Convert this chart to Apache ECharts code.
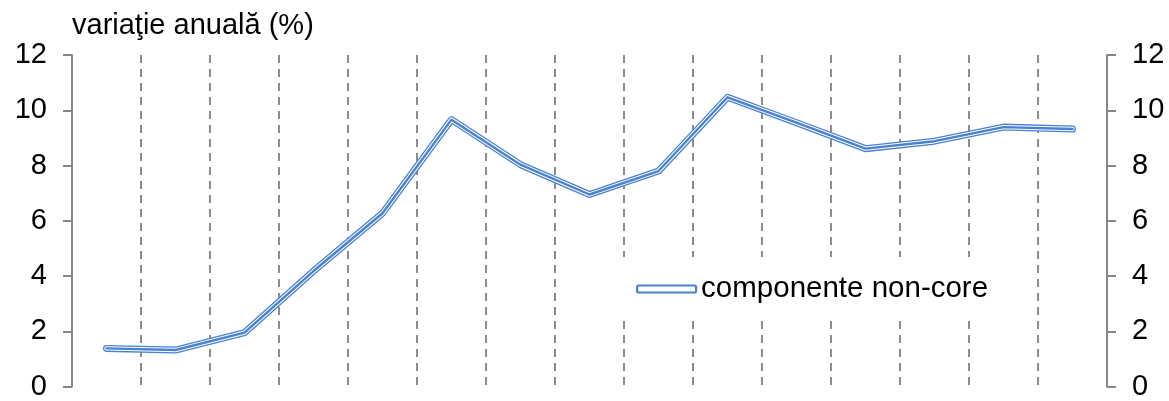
<!DOCTYPE html>
<html><head><meta charset="utf-8">
<script src="https://cdn.jsdelivr.net/npm/echarts@6/dist/echarts.min.js"></script>
<style>html,body{margin:0;padding:0;background:#fff}#c{width:1169px;height:401px}</style>
</head><body><div id="c"></div>
<script>
const categories = ['1','2','3','4','5','6','7','8','9','10','11','12','13','14','15'];
const nonCore = [1.38, 1.32, 1.95, 4.18, 6.27, 9.66, 8.03, 6.95, 7.8, 10.47, 9.55, 8.61, 8.88, 9.39, 9.32];
const yTicks = {min: 0, max: 12, step: 2};
const seriesName = 'componente non-core';
const titleText = 'variaţie anuală (%)';

const BLUE = '#4A82D0';
const FONT = 'Liberation Sans, Arial, sans-serif';
const chart = echarts.init(document.getElementById('c'), null, {renderer: 'canvas'});
const yAxisBase = (pos) => ({
  type: 'value', position: pos, min: yTicks.min, max: yTicks.max, interval: yTicks.step,
  axisLine: {show: true, lineStyle: {color: '#868686', width: 2}},
  axisTick: {show: true, inside: false, length: 9, lineStyle: {color: '#868686', width: 2}},
  axisLabel: {color: '#000', fontSize: 29, fontFamily: FONT, margin: 25},
  splitLine: {show: false}
});
chart.setOption({
  animation: false,
  title: {text: titleText, left: 67, top: 6, textStyle: {fontSize: 29, fontWeight: 'normal', color: '#000', fontFamily: FONT}},
  grid: {left: 72, right: 62, top: 55, bottom: 13, containLabel: false},
  legend: {
    show: true, left: 604, top: 257, orient: 'horizontal',
    padding: [17, 12, 17, 32], backgroundColor: '#fff',
    itemWidth: 59, itemHeight: 7,
    textStyle: {fontSize: 29.5, color: '#000', fontFamily: FONT},
    data: [{name: seriesName, icon: 'roundRect', itemStyle: {color: '#fff', borderColor: BLUE, borderWidth: 2.2}}]
  },
  xAxis: {
    type: 'category', data: categories, boundaryGap: true,
    axisLine: {show: false}, axisTick: {show: false}, axisLabel: {show: false},
    splitLine: {show: true, interval: 0, lineStyle: {color: '#8c8c8c', width: 2, type: [8, 6]}}
  },
  yAxis: [yAxisBase('left'), yAxisBase('right')],
  series: [
    {name: seriesName, type: 'line', data: nonCore, symbol: 'none', lineStyle: {color: BLUE, width: 7, cap: 'round', join: 'round'}, itemStyle: {color: BLUE}, z: 3},
    {name: '_w', type: 'line', data: nonCore, symbol: 'none', lineStyle: {color: '#fff', width: 4.4, cap: 'round', join: 'round'}, z: 4, silent: true},
    {name: '_c', type: 'line', data: nonCore, symbol: 'none', lineStyle: {color: BLUE, width: 2.4, cap: 'round', join: 'round'}, z: 5, silent: true}
  ]
});
</script></body></html>
